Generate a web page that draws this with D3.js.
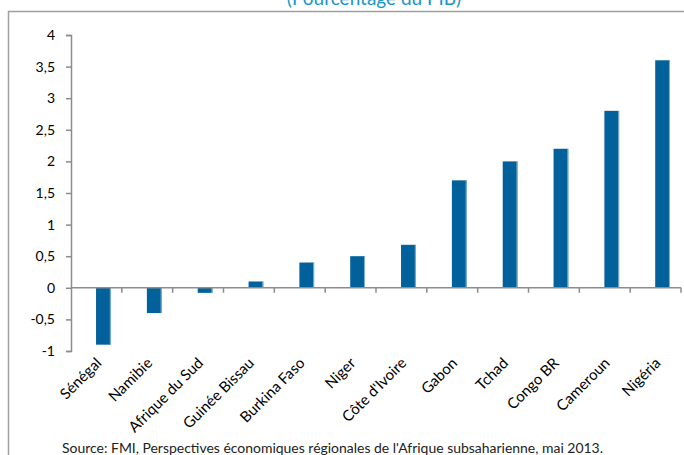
<!DOCTYPE html>
<html>
<head>
<meta charset="utf-8">
<script src="https://cdn.jsdelivr.net/npm/d3@7"></script>
<style>
  body { margin: 0; background: #fff; }
  svg { display: block; }
</style>
</head>
<body>
<svg id="chart" width="684" height="455"></svg>
<script>
// Pays et valeurs (% du PIB)
const countries = ["Sénégal", "Namibie", "Afrique du Sud", "Guinée Bissau", "Burkina Faso", "Niger",
  "Côte d'Ivoire", "Gabon", "Tchad", "Congo BR", "Cameroun", "Nigéria"];
const values = [-0.9, -0.4, -0.08, 0.1, 0.4, 0.5, 0.68, 1.7, 2.0, 2.2, 2.8, 3.6];
const yTicks = [-1, -0.5, 0, 0.5, 1, 1.5, 2, 2.5, 3, 3.5, 4];

const svg = d3.select("#chart");
const font = "Lato, 'Open Sans', sans-serif";

// outer frame
svg.append("rect")
  .attr("x", 8.5).attr("y", 11.5)
  .attr("width", 700).attr("height", 500)
  .attr("fill", "none").attr("stroke", "#a0a0a0").attr("stroke-width", 1.5);

// title (cut at the top, as in the original)
svg.append("text")
  .attr("x", 374).attr("y", 5)
  .attr("text-anchor", "middle")
  .attr("fill", "#1a95c8")
  .style("font-family", font).style("font-size", "19px")
  .text("(Pourcentage du PIB)");

const x = d3.scaleBand().domain(countries).range([71, 681]).paddingInner(0.71).paddingOuter(0.355);
const y = d3.scaleLinear().domain([-1, 4]).range([351, 35]);
const barShift = 7;

// bars
svg.selectAll("rect.bar")
  .data(values)
  .enter()
  .append("rect")
  .attr("class", "bar")
  .attr("x", (d, i) => x(countries[i]) + barShift)
  .attr("y", d => y(Math.max(0, d)))
  .attr("width", x.bandwidth())
  .attr("height", d => Math.abs(y(d) - y(0)))
  .attr("fill", "#02619a");

// light right edge of bars
svg.selectAll("rect.edge")
  .data(values)
  .enter()
  .append("rect")
  .attr("class", "edge")
  .attr("x", (d, i) => x(countries[i]) + barShift + x.bandwidth() - 1)
  .attr("y", d => y(Math.max(0, d)))
  .attr("width", 1)
  .attr("height", d => Math.abs(y(d) - y(0)))
  .attr("fill", "#7fb3d3");

// y axis
const yAxis = svg.append("g")
  .attr("transform", "translate(71,0)")
  .call(d3.axisLeft(y).tickValues(yTicks).tickSize(5).tickPadding(11)
    .tickFormat(d => String(d).replace(".", ",")));
yAxis.select(".domain").attr("stroke", "#8c8c8c").attr("stroke-width", 1.5);
yAxis.selectAll(".tick line").attr("stroke", "#8c8c8c").attr("stroke-width", 1.5);
yAxis.selectAll(".tick text")
  .attr("fill", "#000")
  .style("font-family", font).style("font-size", "14px");

// x axis at zero
const boundaries = d3.range(countries.length + 1).map(i => 71 + i * x.step());
const xAxis = svg.append("g");
xAxis.append("line")
  .attr("x1", 71).attr("x2", 681)
  .attr("y1", y(0)).attr("y2", y(0))
  .attr("stroke", "#8c8c8c").attr("stroke-width", 1.5);
xAxis.selectAll("line.tick")
  .data(boundaries.slice(1))
  .enter()
  .append("line")
  .attr("class", "tick")
  .attr("x1", d => d).attr("x2", d => d)
  .attr("y1", y(0)).attr("y2", y(0) + 5)
  .attr("stroke", "#8c8c8c").attr("stroke-width", 1.5);

// rotated category labels
svg.selectAll("text.cat")
  .data(countries)
  .enter()
  .append("text")
  .attr("class", "cat")
  .attr("text-anchor", "end")
  .attr("transform", d => `translate(${x(d) + x.bandwidth() / 2 + 6},${364}) rotate(-45)`)
  .attr("fill", "#000")
  .style("font-family", font).style("font-size", "15px")
  .text(d => d);

// source
svg.append("text")
  .attr("x", 62).attr("y", 453)
  .attr("fill", "#222")
  .attr("textLength", 541)
  .attr("lengthAdjust", "spacingAndGlyphs")
  .style("font-family", font).style("font-size", "13.5px")
  .text("Source:  FMI, Perspectives économiques régionales de l'Afrique subsaharienne, mai 2013.");
</script>
</body>
</html>
